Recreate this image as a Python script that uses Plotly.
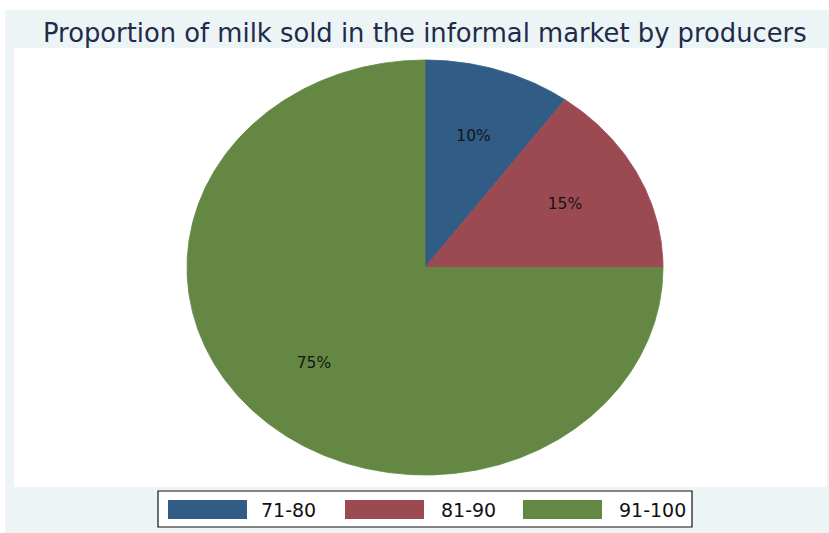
import numpy as np
import plotly.graph_objects as go

# ---- data ----
categories = ["71-80", "81-90", "91-100"]
shares = [10, 15, 75]
title_text = "Proportion of milk sold in the informal market by producers"

# ---- style ----
colors = ["#305C86", "#9C4A52", "#648843"]
W, H = 829, 533
L, R, T, B = 14, 2, 48, 46
CX, CY, RX, RY = 425, 267.5, 238, 207.5

def px_to_paper(x, y):
    return (x - L) / (W - L - R), (H - B - y) / (H - T - B)

fig = go.Figure()

total = float(sum(shares))
cum = 0.0
for cat, val, col in zip(categories, shares, colors):
    a0 = 90 - 360 * cum / total
    a1 = 90 - 360 * (cum + val) / total
    n = max(int(abs(a1 - a0)) * 2, 8)
    th = np.radians(np.linspace(a0, a1, n))
    xs = np.concatenate([[0], np.cos(th), [0]])
    ys = np.concatenate([[0], np.sin(th), [0]])
    fig.add_trace(go.Scatter(
        x=xs, y=ys, mode="lines", fill="toself", fillcolor=col,
        line=dict(color=col, width=0.8), name=cat, showlegend=False,
        hoverinfo="name",
    ))
    mid = np.radians(90 - 360 * (cum + val / 2) / total)
    fig.add_trace(go.Scatter(
        x=[0.66 * np.cos(mid)], y=[0.66 * np.sin(mid)], mode="text",
        text=[f"{val}%"], textposition="middle center",
        textfont=dict(family="DejaVu Sans", size=15.5, color="#151515"),
        showlegend=False, hoverinfo="skip",
    ))
    cum += val

shapes = []
# outer light background
x0, y0 = px_to_paper(5, 533)
x1, y1 = px_to_paper(829, 10)
shapes.append(dict(type="rect", xref="paper", yref="paper", x0=x0, y0=y0, x1=x1, y1=y1,
                   fillcolor="#ECF4F6", line=dict(width=0), layer="below"))
# inner white plot region
x0, y0 = px_to_paper(14, 487)
x1, y1 = px_to_paper(827, 48)
shapes.append(dict(type="rect", xref="paper", yref="paper", x0=x0, y0=y0, x1=x1, y1=y1,
                   fillcolor="white", line=dict(width=0), layer="below"))
# legend box
x0, y0 = px_to_paper(158, 527)
x1, y1 = px_to_paper(692, 491)
shapes.append(dict(type="rect", xref="paper", yref="paper", x0=x0, y0=y0, x1=x1, y1=y1,
                   fillcolor="white", line=dict(color="#111111", width=1.2), layer="above"))

annotations = []
sw_left = [168, 345, 523]
txt_left = [259, 439, 617]
for cat, col, sx, tx in zip(categories, colors, sw_left, txt_left):
    a, b = px_to_paper(sx, 519)
    c, d = px_to_paper(sx + 79, 500)
    shapes.append(dict(type="rect", xref="paper", yref="paper", x0=a, y0=b, x1=c, y1=d,
                       fillcolor=col, line=dict(width=0), layer="above"))
    ax, ay = px_to_paper(tx, 510)
    annotations.append(dict(x=ax, y=ay, xref="paper", yref="paper", text=cat,
                            showarrow=False, xanchor="left", yanchor="middle",
                            font=dict(family="DejaVu Sans", size=19, color="#111111")))

tx_, ty_ = px_to_paper(425, 33)
annotations.append(dict(x=tx_, y=ty_, xref="paper", yref="paper", text=title_text,
                        showarrow=False, xanchor="center", yanchor="middle",
                        font=dict(family="DejaVu Sans", size=25.8, color="#1E2B4A")))

fig.update_layout(
    width=W, height=H, autosize=False,
    margin=dict(l=L, r=R, t=T, b=B, pad=0),
    paper_bgcolor="white", plot_bgcolor="rgba(0,0,0,0)",
    xaxis=dict(range=[(L - CX) / RX, (W - R - CX) / RX], visible=False, fixedrange=True),
    yaxis=dict(range=[-(H - B - CY) / RY, (CY - T) / RY], visible=False, fixedrange=True),
    shapes=shapes, annotations=annotations, showlegend=False,
)

fig.write_html("out.html")
